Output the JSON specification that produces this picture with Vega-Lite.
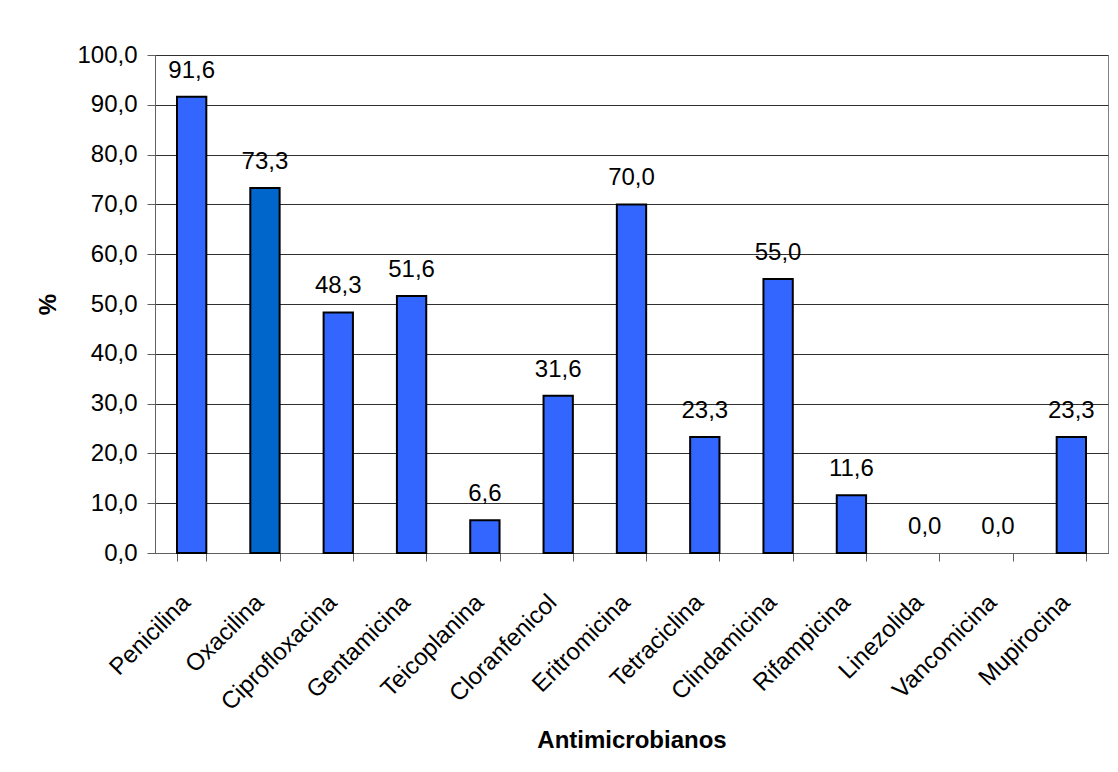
{
  "$schema": "https://vega.github.io/schema/vega-lite/v6.json",
  "autosize": "none",
  "width": 953,
  "height": 498,
  "padding": {"left": 155, "top": 55, "right": 10, "bottom": 219},
  "background": "white",
  "config": {
    "locale": {"number": {"decimal": ",", "thousands": ".", "grouping": [3], "currency": ["", ""]}},
    "font": "Liberation Sans",
    "view": {"stroke": "#808080", "strokeWidth": 1}
  },
  "data": {
    "values": [
      {"antimicrobiano": "Penicilina", "pct": 91.6, "grupo": "a"},
      {"antimicrobiano": "Oxacilina", "pct": 73.3, "grupo": "b"},
      {"antimicrobiano": "Ciprofloxacina", "pct": 48.3, "grupo": "a"},
      {"antimicrobiano": "Gentamicina", "pct": 51.6, "grupo": "a"},
      {"antimicrobiano": "Teicoplanina", "pct": 6.6, "grupo": "a"},
      {"antimicrobiano": "Cloranfenicol", "pct": 31.6, "grupo": "a"},
      {"antimicrobiano": "Eritromicina", "pct": 70.0, "grupo": "a"},
      {"antimicrobiano": "Tetraciclina", "pct": 23.3, "grupo": "a"},
      {"antimicrobiano": "Clindamicina", "pct": 55.0, "grupo": "a"},
      {"antimicrobiano": "Rifampicina", "pct": 11.6, "grupo": "a"},
      {"antimicrobiano": "Linezolida", "pct": 0.0, "grupo": "a"},
      {"antimicrobiano": "Vancomicina", "pct": 0.0, "grupo": "a"},
      {"antimicrobiano": "Mupirocina", "pct": 23.3, "grupo": "a"}
    ]
  },
  "encoding": {
    "x": {
      "field": "antimicrobiano",
      "type": "nominal",
      "sort": ["Penicilina", "Oxacilina", "Ciprofloxacina", "Gentamicina", "Teicoplanina", "Cloranfenicol", "Eritromicina", "Tetraciclina", "Clindamicina", "Rifampicina", "Linezolida", "Vancomicina", "Mupirocina"],
      "scale": {"paddingInner": 0.6, "paddingOuter": 0.3},
      "axis": {
        "title": "Antimicrobianos",
        "titleFontSize": 24,
        "titleFontWeight": "bold",
        "titleColor": "black",
        "titlePadding": 14,
        "labelAngle": -45,
        "labelFontSize": 24,
        "labelColor": "black",
        "labelPadding": 29,
        "labelOffset": -14,
        "tickBand": "extent",
        "tickSize": 8,
        "tickColor": "#606060",
        "domainColor": "#606060",
        "grid": false
      }
    },
    "y": {
      "field": "pct",
      "type": "quantitative",
      "scale": {"domain": [0, 100], "nice": false},
      "axis": {
        "title": "%",
        "titleFontSize": 24,
        "titleFontWeight": "bold",
        "titleColor": "black",
        "titlePadding": 16,
        "format": ".1f",
        "values": [0, 10, 20, 30, 40, 50, 60, 70, 80, 90, 100],
        "labelFontSize": 24,
        "labelColor": "black",
        "labelPadding": 10,
        "tickSize": 8,
        "tickColor": "#606060",
        "domainColor": "#606060",
        "grid": true,
        "gridColor": "#303030",
        "gridWidth": 1
      }
    }
  },
  "layer": [
    {
      "transform": [{"filter": "datum.pct > 0"}],
      "mark": {"type": "bar", "stroke": "black", "strokeWidth": 2},
      "encoding": {
        "color": {
          "field": "grupo",
          "type": "nominal",
          "scale": {"domain": ["a", "b"], "range": ["#3366FF", "#0066CC"]},
          "legend": null
        }
      }
    },
    {
      "mark": {"type": "text", "baseline": "bottom", "dy": -14, "fontSize": 24, "color": "black"},
      "encoding": {
        "text": {"field": "pct", "type": "quantitative", "format": ".1f"}
      }
    }
  ]
}
